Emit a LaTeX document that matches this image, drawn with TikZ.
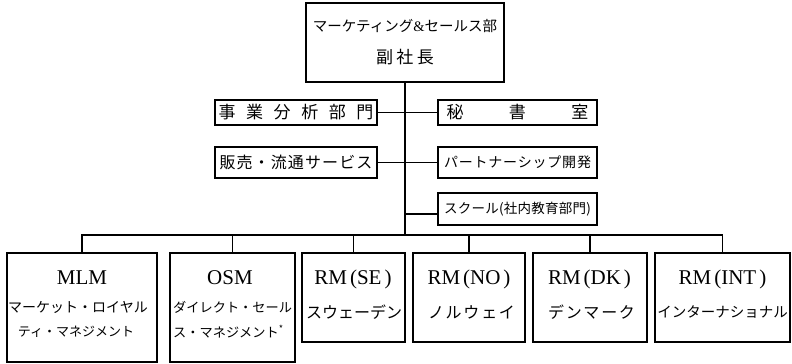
\documentclass[tikz,border=0pt]{standalone}
\usepackage{fontspec}
\setmainfont{Liberation Serif}
\newfontfamily\jp{Noto Sans CJK JP}
\def\sprdfirst#1{#1\sprdrest}
\def\sprdrest#1{\ifx#1\relax\else\hfil#1\expandafter\sprdrest\fi}
\newcommand\sprd[2]{\makebox[#1][s]{\sprdfirst#2\relax}}
\begin{document}
\begin{tikzpicture}[x=1bp,y=-1bp,
  box/.style={draw, line width=1.6bp, inner sep=0pt, anchor=center},
  conn/.style={line width=1.4bp},
  jpt/.style={inner sep=0pt, font=\jp\fontsize{#1}{#1}\selectfont},
  lat/.style={inner sep=0pt, font=\rmfamily\fontsize{#1}{#1}\selectfont}]
\useasboundingbox (0,0) rectangle (792,363);

% top box
\node[box, minimum width=198bp, minimum height=79bp] (vp) at (405,42.5) {};
\node[jpt=14.5bp] (vp1) at (405,26) {マーケティング{\rmfamily\&}セールス部};
\node[jpt=17bp] (vp2) at (405,57) {\sprd{58bp}{副社長}};

% staff boxes
\node[box, minimum width=162bp, minimum height=25bp, jpt=17bp] (jigyo) at (296,112.5) {\sprd{155bp}{事業分析部門}};
\node[box, minimum width=159bp, minimum height=25bp, jpt=17bp] (hisho) at (517.5,112.5) {\sprd{142bp}{秘書室}};
\node[box, minimum width=162bp, minimum height=31bp, jpt=16bp] (hanbai) at (296,162.5) {\sprd{153bp}{販売・流通サービス}};
\node[box, minimum width=159bp, minimum height=31bp, jpt=14bp] (partner) at (517.5,162.5) {\sprd{147bp}{パートナーシップ開発}};
\node[box, minimum width=159bp, minimum height=32bp, jpt=13.5bp] (school) at (517.5,209) {\sprd{147bp}{スクール(社内教育部門)}};

% bottom boxes
\node[box, minimum width=150bp, minimum height=109bp] (mlm) at (82,307.5) {};
\node[box, minimum width=125bp, minimum height=109bp] (osm) at (232.5,307.5) {};
\node[box, minimum width=103bp, minimum height=89bp] (se) at (353.5,297.5) {};
\node[box, minimum width=112bp, minimum height=89bp] (no) at (469,297.5) {};
\node[box, minimum width=114bp, minimum height=89bp] (dk) at (590,297.5) {};
\node[box, minimum width=135bp, minimum height=89bp] (int) at (722.5,297.5) {};

\node[lat=21bp] (mlm1) at (82,278) {MLM};
\node[jpt=14bp] (mlm2) at (78,307) {マーケット・ロイヤル};
\node[jpt=13bp] (mlm3) at (76,332) {ティ・マネジメント};

\node[lat=21bp] (osm1) at (230,278) {OSM};
\node[jpt=13.2bp, anchor=west] (osm2) at (173,307) {ダイレクト・セール};
\node[jpt=13.2bp, anchor=west] (osm3) at (173,332) {ス・マネジメント\textsuperscript{*}};

\node[lat=21bp] (se1) at (353,279) {RM\kern3bp(SE\kern3bp)};
\node[lat=21bp] (no1) at (469,279) {RM\kern3bp(NO\kern3bp)};
\node[lat=21bp] (dk1) at (589.5,279) {RM\kern3bp(DK\kern3bp)};
\node[lat=21bp] (int1) at (722.5,279) {RM\kern3bp(INT\kern3bp)};

\node[jpt=16bp] (se2) at (354,312) {スウェーデン};
\node[jpt=16bp] (no2) at (471.5,312) {\sprd{87bp}{ノルウェイ}};
\node[jpt=16bp] (dk2) at (591.5,312) {\sprd{87bp}{デンマーク}};
\node[jpt=14.5bp] (int2) at (722.5,312) {インターナショナル};

% connectors
\coordinate (bus) at (405,235);
\coordinate (sj) at ([yshift=-5bp]school.west);
\draw[conn] (vp.south) -- (bus);
\draw[conn] (jigyo.east) -- (hisho.west);
\draw[conn] (hanbai.east) -- (partner.west);
\draw[conn] (vp.south |- sj) -- (sj);
\draw[conn] (mlm.north) -- (mlm.north |- bus) -- (int.north |- bus) -- (int.north);
\foreach \n in {osm,se,no,dk} \draw[conn] (\n.north) -- (\n.north |- bus);
\end{tikzpicture}
\end{document}
